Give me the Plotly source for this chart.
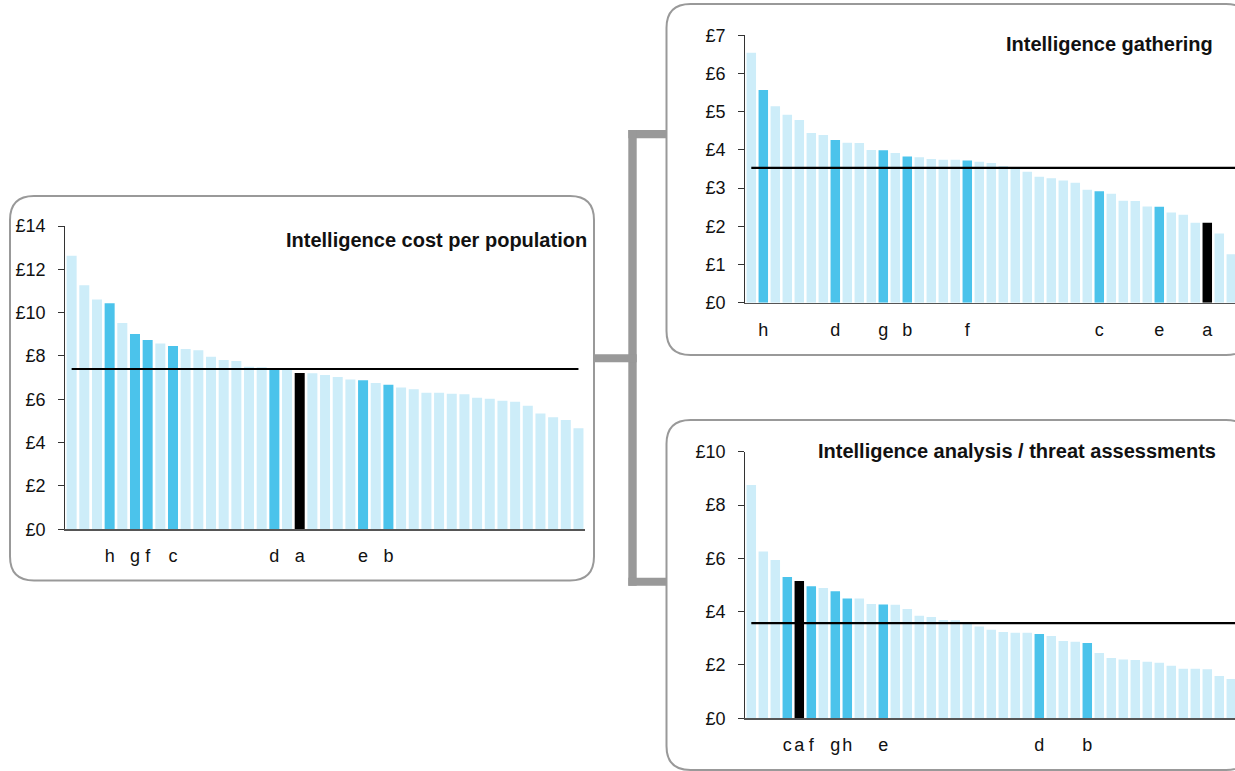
import plotly.graph_objects as go

W, H = 1235, 771

# ---------------- data ----------------
cost_labels = ["", "", "", "h", "", "g", "f", "", "c", "", "", "", "", "", "", "", "d", "", "a", "", "",
               "", "", "e", "", "b", "", "", "", "", "", "", "", "", "", "", "", "", "", "", ""]
cost_values = [12.63, 11.27, 10.61, 10.43, 9.52, 9.01, 8.74, 8.58, 8.46, 8.32, 8.27, 7.97, 7.81, 7.77,
               7.50, 7.48, 7.42, 7.38, 7.21, 7.20, 7.12, 7.03, 6.92, 6.88, 6.75, 6.67, 6.55, 6.46, 6.30,
               6.30, 6.26, 6.23, 6.07, 6.03, 5.93, 5.89, 5.70, 5.35, 5.17, 5.04, 4.67]
cost_avg = 7.40
cost_title = "Intelligence cost per population"

gather_labels = ["", "h", "", "", "", "", "", "d", "", "", "", "g", "", "b", "", "", "", "", "f", "", "",
                 "", "", "", "", "", "", "", "", "c", "", "", "", "", "e", "", "", "", "a", "", ""]
gather_values = [6.54, 5.57, 5.14, 4.92, 4.78, 4.44, 4.39, 4.26, 4.19, 4.18, 4.00, 3.99, 3.92, 3.83,
                 3.81, 3.76, 3.74, 3.74, 3.72, 3.69, 3.66, 3.58, 3.55, 3.43, 3.30, 3.26, 3.20, 3.14,
                 2.96, 2.92, 2.85, 2.67, 2.66, 2.52, 2.51, 2.36, 2.30, 2.09, 2.09, 1.81, 1.27]
gather_avg = 3.53
gather_title = "Intelligence gathering"

analysis_labels = ["", "", "", "c", "a", "f", "", "g", "h", "", "", "e", "", "", "", "", "", "", "", "", "",
                   "", "", "", "d", "", "", "", "b", "", "", "", "", "", "", "", "", "", "", "", ""]
analysis_values = [8.75, 6.26, 5.94, 5.30, 5.15, 4.95, 4.89, 4.77, 4.49, 4.49, 4.29, 4.27, 4.26, 4.10,
                   3.85, 3.80, 3.69, 3.68, 3.60, 3.44, 3.32, 3.24, 3.21, 3.21, 3.16, 3.09, 2.90, 2.87,
                   2.82, 2.45, 2.26, 2.21, 2.19, 2.12, 2.08, 1.97, 1.86, 1.86, 1.84, 1.59, 1.47]
analysis_avg = 3.57
analysis_title = "Intelligence analysis / threat assessments"

LIGHT = "#CDEDF9"
MID = "#4BC3EB"
DARK = "#000000"
GREY = "#999999"
FONT = "Liberation Sans, Arial, sans-serif"


def colour(lbl):
    if lbl == "a":
        return DARK
    if lbl:
        return MID
    return LIGHT


def px(x):
    return x / W


def py(y):
    return 1 - y / H


fig = go.Figure()

panels = [
    ("", cost_labels, cost_values, cost_avg, cost_title, (65.3, 584.8), (529.3, 226.0), 14, 2, 40.5,
     (589, 240), (0, 40)),
    ("2", gather_labels, gather_values, gather_avg, gather_title, (745.3, 1235), (302.7, 35.3), 7, 1, 40.31,
     (1215, 44), (0, 40.31)),
    ("3", analysis_labels, analysis_values, analysis_avg, analysis_title, (745.3, 1235), (718.3, 451.7), 10, 2,
     40.31, (1218, 451), (0, 40.31)),
]

for (sfx, labels, values, avg, title, xd, yd, ymax, dt, xmax, tpos, lx) in panels:
    xs = list(range(len(values)))
    xa = "x" + sfx
    ya = "y" + sfx
    fig.add_trace(go.Bar(x=xs, y=values, marker=dict(color=[colour(l) for l in labels], line=dict(width=0)),
                         xaxis=xa, yaxis=ya, showlegend=False, hoverinfo="skip"))
    fig.add_trace(go.Scatter(x=[lx[0], lx[1]], y=[avg, avg], mode="lines",
                             line=dict(color="#000000", width=2.2), xaxis=xa, yaxis=ya,
                             showlegend=False, hoverinfo="skip", cliponaxis=False))
    tv = [i for i, l in enumerate(labels) if l]
    tt = [l for l in labels if l]
    fig.update_layout(**{
        "xaxis" + sfx: dict(domain=[px(xd[0]), px(xd[1])], range=[-0.5, xmax], anchor=ya,
                            showline=True, linecolor="#555555", linewidth=1.5, ticks="",
                            tickvals=tv, ticktext=tt, tickangle=0, showgrid=False, zeroline=False,
                            tickfont=dict(family=FONT, size=18, color="#111111"),
                            ticklabelstandoff=10, fixedrange=True, automargin=False),
        "yaxis" + sfx: dict(domain=[py(yd[0]), py(yd[1])], range=[0, ymax], anchor=xa,
                            showline=True, linecolor="#333333", linewidth=1.2, ticks="outside",
                            ticklen=6, tickcolor="#333333", tickwidth=1, dtick=dt, tickprefix="£",
                            showgrid=False, zeroline=False,
                            tickfont=dict(family=FONT, size=18, color="#111111"),
                            ticklabelstandoff=9, fixedrange=True, automargin=False),
    })
    fig.add_annotation(x=px(tpos[0]), y=py(tpos[1]), xref="paper", yref="paper", text="<b>%s</b>" % title,
                       showarrow=False, xanchor="right", yanchor="middle",
                       font=dict(family=FONT, size=20, color="#111111"))


def rounded(x0, y0, x1, y1, r):
    rx, ry = r / W, r / H
    X0, X1 = px(x0), px(x1)
    Y0, Y1 = py(y0), py(y1)
    return (f"M {X0 + rx},{Y0} L {X1 - rx},{Y0} Q {X1},{Y0} {X1},{Y0 - ry} "
            f"L {X1},{Y1 + ry} Q {X1},{Y1} {X1 - rx},{Y1} L {X0 + rx},{Y1} "
            f"Q {X0},{Y1} {X0},{Y1 + ry} L {X0},{Y0 - ry} Q {X0},{Y0} {X0 + rx},{Y0} Z")


shapes = []
for (x0, y0, x1, y1) in [(10, 196, 594, 580.5), (666.5, 4, 1250, 355), (666.5, 420, 1250, 770)]:
    shapes.append(dict(type="path", xref="paper", yref="paper", path=rounded(x0, y0, x1, y1, 24),
                       line=dict(color=GREY, width=2), fillcolor="rgba(0,0,0,0)", layer="below"))
for (x0, y0, x1, y1) in [(628.3, 130, 666.5, 138.3), (628.3, 130, 636.7, 585.7),
                         (595, 354.3, 636.7, 362.3), (628.3, 577.7, 666.5, 585.7)]:
    shapes.append(dict(type="rect", xref="paper", yref="paper", x0=px(x0), x1=px(x1), y0=py(y1), y1=py(y0),
                       fillcolor=GREY, line=dict(width=0), layer="below"))

fig.update_layout(width=W, height=H, margin=dict(l=0, r=0, t=0, b=0, pad=0, autoexpand=False),
                  paper_bgcolor="white", plot_bgcolor="rgba(0,0,0,0)", bargap=0.21, shapes=shapes,
                  font=dict(family=FONT, color="#111111"))

fig.write_html("out.html", config={"displayModeBar": False, "staticPlot": True},
               post_script="document.body.style.margin='0';document.body.style.overflow='hidden';")
